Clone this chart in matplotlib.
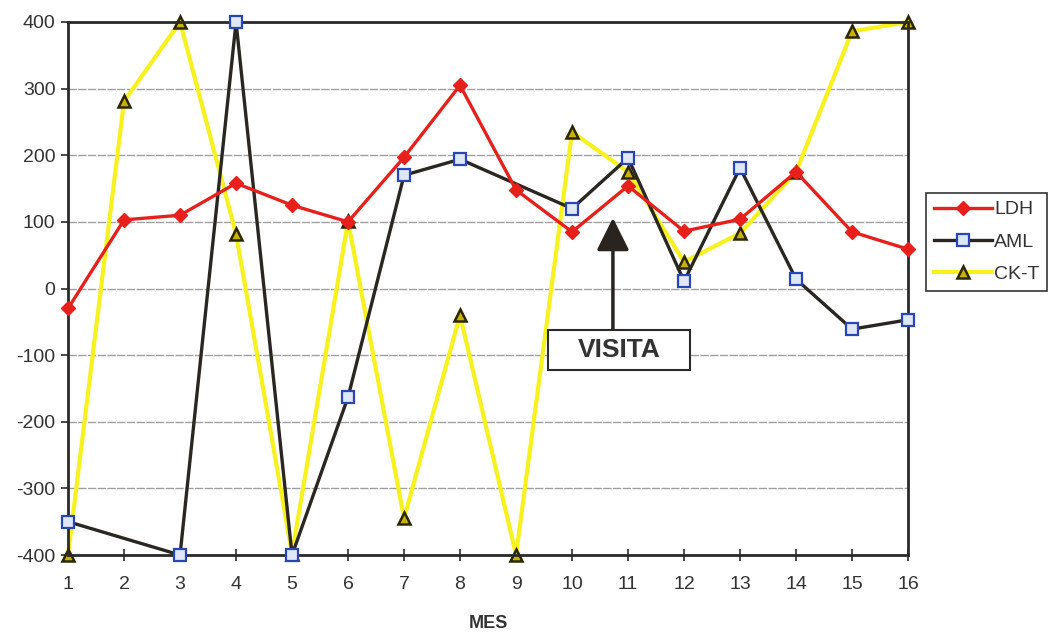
import numpy as np
import matplotlib
matplotlib.use('Agg')
import matplotlib.pyplot as plt
from matplotlib.patches import Rectangle

plt.rcParams['font.family'] = ['Liberation Sans', 'DejaVu Sans']
plt.rcParams['axes.unicode_minus'] = False

# data
months = list(range(1, 17))
ldh = [-30, 103, 110, 158, 125, 100, 197, 305, 148, 85, 154, 86, 104, 175, 85, 59]
# AML has no value for months 2 and 9 (the line joins across them)
aml_months = [1, 3, 4, 5, 6, 7, 8, 10, 11, 12, 13, 14, 15, 16]
aml = [-350, -400, 400, -400, -163, 170, 194, 120, 196, 11, 181, 14, -61, -47]
ckt = [-400, 281, 400, 82, -398, 101, -345, -40, -400, 235, 175, 40, 83, 175, 386, 400]
y_ticks = [-400, -300, -200, -100, 0, 100, 200, 300, 400]

fig = plt.figure(figsize=(10.5, 6.34), dpi=100)
ax = fig.add_axes([0.0648, 0.1246, 0.80, 0.8407])

# series
ax.plot(months, ldh, color='#e8201c', lw=2.4, marker='D', ms=7,
        mfc='#e8201c', mec='#e8201c', label='LDH', clip_on=False, zorder=4)
ax.plot(aml_months, aml, color='#2a2622', lw=2.4, marker='s', ms=8,
        mfc='#dfe6f6', mec='#2846b4', mew=1.6, label='AML', clip_on=False, zorder=3)
ax.plot(months, ckt, color='#f7f21e', lw=3.0, marker='^', ms=8,
        mfc='#c8b400', mec='#2c2600', mew=1.8, label='CK-T', clip_on=False, zorder=2)

ax.set_xlim(1, 16)
ax.set_ylim(-400, 400)
ax.set_xticks(months)
ax.set_yticks(y_ticks)
ax.grid(axis='y', color='#a0a0a0', lw=1.0, ls=(0, (6, 1)))
ax.set_axisbelow(True)
for s in ax.spines.values():
    s.set_color('#2a2a2a')
    s.set_linewidth(2)
ax.tick_params(axis='x', direction='inout', length=8, width=1.2, colors='#2a2a2a',
               labelsize=14, labelcolor='#333333', pad=11)
ax.tick_params(axis='y', direction='out', length=5, width=1.2, colors='#2a2a2a',
               labelsize=14, labelcolor='#333333', pad=4)
ax.set_xlabel('MES', fontsize=13, fontweight='bold', color='#333333', labelpad=16)

# VISITA arrow and box
ax.annotate('', xy=(10.73, 106), xytext=(10.73, -62),
            arrowprops=dict(arrowstyle='-|>,head_length=1.0,head_width=0.5',
                            mutation_scale=20, lw=2.5, color='#2a2420',
                            shrinkA=0, shrinkB=0), zorder=5)
ax.add_patch(Rectangle((9.571, -122), 2.536, 60, fc='white', ec='#2a2a2a',
                       lw=1.5, zorder=5))
ax.text(10.84, -92, 'VISITA', ha='center', va='center', fontsize=19,
        fontweight='bold', color='#333333', zorder=6)

leg = ax.legend(loc='upper left', bbox_to_anchor=(926 / 1050, 1 - 193 / 634),
                bbox_transform=fig.transFigure, borderaxespad=0, fancybox=False,
                edgecolor='#333333', framealpha=1, fontsize=14, handlelength=3.0,
                handletextpad=0.1, labelspacing=0.75, borderpad=0.4)
leg.get_frame().set_linewidth(1.2)
for t in leg.get_texts():
    t.set_color('#333333')

fig.savefig('out.png', dpi=100)
